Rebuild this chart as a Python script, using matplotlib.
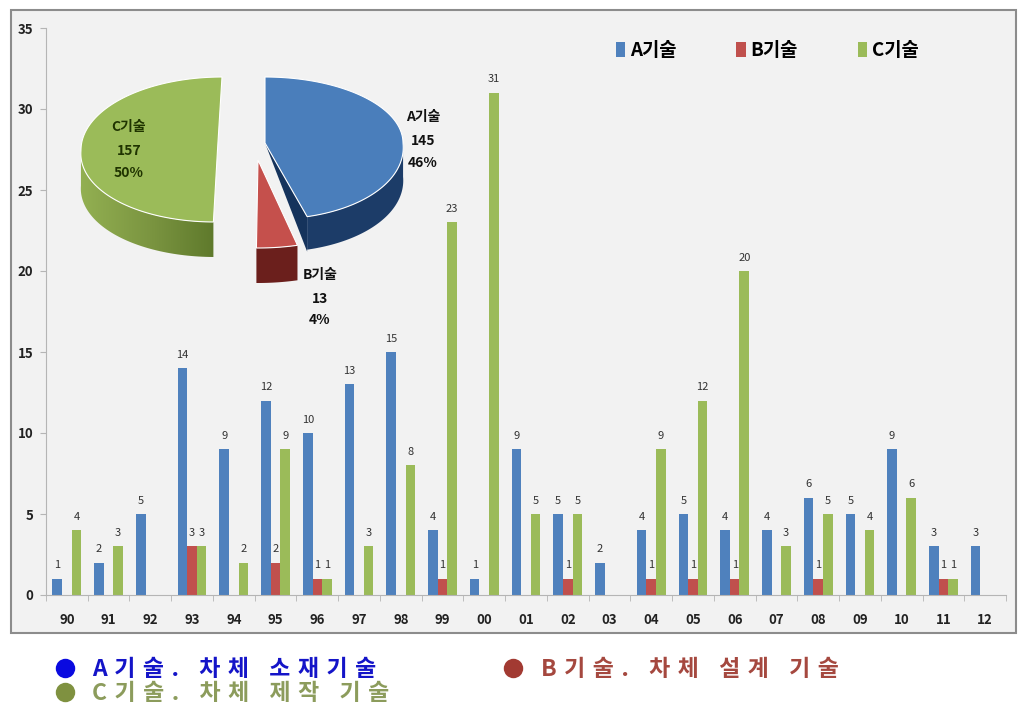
import numpy as np
import matplotlib
matplotlib.use("Agg")
import matplotlib.pyplot as plt
from matplotlib.patches import Polygon, Rectangle

plt.rcParams['font.family'] = ['Noto Sans CJK KR', 'DejaVu Sans']

years = ['90', '91', '92', '93', '94', '95', '96', '97', '98', '99', '00', '01',
         '02', '03', '04', '05', '06', '07', '08', '09', '10', '11', '12']
tech_a = [1, 2, 5, 14, 9, 12, 10, 13, 15, 4, 1, 9, 5, 2, 4, 5, 4, 4, 6, 5, 9, 3, 3]
tech_b = [0, 0, 0, 3, 0, 2, 1, 0, 0, 1, 0, 0, 1, 0, 1, 1, 1, 0, 1, 0, 0, 1, 0]
tech_c = [4, 3, 0, 3, 2, 9, 1, 3, 8, 23, 31, 5, 5, 0, 9, 12, 20, 3, 5, 4, 6, 1, 0]
series_names = ['A기술', 'B기술', 'C기술']
pie_values = [145, 13, 157]
notes = ['A기술. 차체 소재기술', 'B기술. 차체 설계 기술', 'C기술. 차체 제작 기술']

BLUE, RED, GREEN = '#4f81bd', '#c0504d', '#9bbb59'
W, H = 1025, 712

fig = plt.figure(figsize=(W / 100, H / 100), dpi=100, facecolor='white')

# panel behind the chart
bg = fig.add_axes([0, 0, 1, 1], zorder=0)
bg.set_xlim(0, W)
bg.set_ylim(H, 0)
bg.axis('off')
bg.add_patch(Rectangle((11, 10), 1005, 623, fc='#f2f2f2', ec='#8c8c8c', lw=1.5))

# bars
ax = fig.add_axes([46 / W, 1 - 595 / H, 960 / W, 567 / H], zorder=1)
ax.patch.set_alpha(0)
x = np.arange(len(years))
bar_w = 0.23
for offset, vals, color, name in zip([-bar_w, 0, bar_w], [tech_a, tech_b, tech_c],
                                     [BLUE, RED, GREEN], series_names):
    bars = ax.bar(x + offset, vals, bar_w, color=color, label=name)
    for b, v in zip(bars, vals):
        if v > 0:
            ax.annotate(str(v), (b.get_x() + b.get_width() / 2, v), xytext=(0, 6),
                        textcoords='offset points', ha='center', va='bottom',
                        fontsize=8, color='#333333')

ax.set_xlim(-0.5, len(years) - 0.5)
ax.set_ylim(0, 35)
ax.set_yticks(range(0, 36, 5))
ax.set_xticks(x)
ax.set_xticklabels(years, fontsize=9.5, fontweight='bold', color='#222222')
ax.set_xticks(np.arange(len(years) + 1) - 0.5, minor=True)
ax.tick_params(axis='x', which='major', length=0, pad=13)
ax.tick_params(axis='x', which='minor', length=4, color='#b5b5b5')
ax.tick_params(axis='y', length=4, color='#b5b5b5', labelsize=9.5, labelcolor='#222222', pad=5)
for lab in ax.get_yticklabels():
    lab.set_fontweight('bold')
for side in ['top', 'right']:
    ax.spines[side].set_visible(False)
for side in ['left', 'bottom']:
    ax.spines[side].set_color('#b5b5b5')
ax.legend(loc='upper left', bbox_to_anchor=(0.5758, 1.007), ncol=3, frameon=False,
          handlelength=0.5, handleheight=0.8, handletextpad=0.25, columnspacing=3.2,
          prop={'size': 13.5, 'weight': 'bold'})

# 3d pie and text drawn on a pixel overlay
top = fig.add_axes([0, 0, 1, 1], zorder=2)
top.patch.set_alpha(0)
top.axis('off')

total = sum(pie_values)
angles = np.concatenate([[0], np.cumsum(pie_values) / total * 360])


def arc(cx, cy, rx, ry_up, ry_low, start, end, lean=0.0):
    t = np.radians(np.linspace(start, end, 120))
    s, c = np.sin(t), np.cos(t)
    px = cx + rx * s
    py = cy - np.where(c > 0, ry_up, ry_low) * c
    px = px + lean * np.clip(py - cy, 0, None)
    return t, np.column_stack([px, py])


def pie_slice(i, cx, cy, rx, ry_up, ry_low, depth, top_color, side_color, lean=0.0, apex=None):
    t, rim = arc(cx, cy, rx, ry_up, ry_low, angles[i], angles[i + 1], lean)
    low = rim[(t > np.pi / 2) & (t < 3 * np.pi / 2)]
    wall = np.vstack([low, low[::-1] + [0, depth]])
    side = Polygon(wall, fc=side_color, ec='none', zorder=2)
    top.add_patch(side)
    tip = apex if apex else (cx, cy)
    top.add_patch(Polygon(np.vstack([tip, rim]), fc=top_color, ec='white', lw=0.8, zorder=4))
    return side, rim


# blue slice, with its inner cut face
side_a, rim_a = pie_slice(0, 265, 143, 138, 66, 76, 33, '#4a7ebb', '#1c3c68', lean=0.11)
end_a = rim_a[-1]
top.add_patch(Polygon([[265, 143], end_a, end_a + [0, 35]], fc='#15335c', ec='none', zorder=3))

# red slice
pie_slice(1, 258, 160, 160, 68, 88, 35, '#c5504c', '#6b1f1c')

# green slice, side shaded from left to right
side_c, rim_c = pie_slice(2, 222, 150, 141, 73, 72, 35, GREEN, 'none', lean=-0.1, apex=(217.5, 150))
shade = np.linspace(0, 1, 256).reshape(1, -1)
cmap = matplotlib.colors.LinearSegmentedColormap.from_list('side', ['#93b052', '#7a9440', '#5a7528'])
img = top.imshow(shade, extent=(80, 225, 270, 140), cmap=cmap, aspect='auto', zorder=2)
img.set_clip_path(side_c)

top.set_xlim(0, W)
top.set_ylim(H, 0)

pie_text = [(423, 117, 141, 163, '#111111'), (320, 275, 299, 320, '#111111'), (129, 127, 151, 173, '#1f3300')]
for (tx, y1, y2, y3, col), name, val in zip(pie_text, series_names, pie_values):
    pct = round(val / total * 100)
    for ty, s in zip([y1, y2, y3], [name, str(val), f'{pct}%']):
        top.text(tx, ty, s, ha='center', va='center', fontsize=10, fontweight='bold', color=col, zorder=6)

# notes under the chart, the letters sit far apart in the original
note_pos = [(65, 92, 668), (513, 541, 668), (65, 92, 692)]
dot_colors = ['#0a0ae0', '#a23a32', '#7f9140']
text_colors = ['#1414c8', '#a5483f', '#8c9c5c']
for (mx, tx, ty), s, dc, tc in zip(note_pos, notes, dot_colors, text_colors):
    top.plot([mx], [ty], 'o', ms=14, color=dc, mec='none')
    top.text(tx, ty + 1, '\u2004'.join(s), ha='left', va='center', fontsize=16.5, fontweight='bold', color=tc)

fig.savefig('out.png', dpi=100)
